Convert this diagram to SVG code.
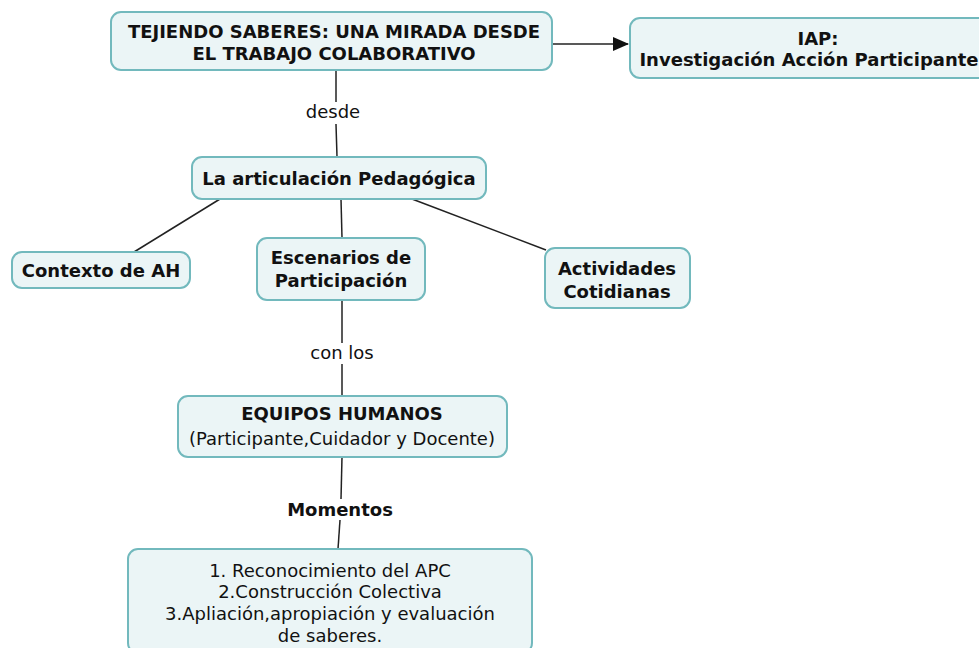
<svg xmlns="http://www.w3.org/2000/svg" width="979" height="648" viewBox="0 0 979 648">
<defs>
<style>
.box{fill:#ebf5f6;stroke:#72b9bd;stroke-width:2}
.t{font-family:"DejaVu Sans",Verdana,sans-serif;font-size:18px;fill:#111;text-anchor:middle}
.b{font-weight:bold}
.ln{stroke:#222;stroke-width:1.5;fill:none}
</style>
<marker id="arr" markerWidth="16" markerHeight="16" refX="15" refY="8" orient="auto" markerUnits="userSpaceOnUse">
<path d="M0,1 L16,8 L0,15 Z" fill="#111"/>
</marker>
</defs>
<rect width="979" height="648" fill="#fff"/>
<g id="connectors">
<line class="ln" x1="552" y1="44" x2="628" y2="44" marker-end="url(#arr)"/>
<line class="ln" x1="336" y1="70" x2="336" y2="102"/>
<line class="ln" x1="336" y1="124" x2="337" y2="157"/>
<line class="ln" x1="220" y1="199" x2="134" y2="252"/>
<line class="ln" x1="341" y1="199" x2="342" y2="238"/>
<line class="ln" x1="412" y1="199" x2="546" y2="250"/>
<line class="ln" x1="342" y1="300" x2="342" y2="343"/>
<line class="ln" x1="342" y1="364" x2="342" y2="396"/>
<line class="ln" x1="342" y1="457" x2="341" y2="499"/>
<line class="ln" x1="340" y1="520" x2="338" y2="549"/>
</g>
<g id="main">
<rect class="box" x="111" y="12" width="441" height="58" rx="10"/>
<text class="t b" x="334" y="38">TEJIENDO SABERES: UNA MIRADA DESDE</text>
<text class="t b" x="334" y="60">EL TRABAJO COLABORATIVO</text>
</g>
<g id="iap">
<rect class="box" x="630" y="18" width="360" height="60" rx="10"/>
<text class="t b" x="818" y="45">IAP:</text>
<text class="t b" x="809" y="66">Investigación Acción Participante</text>
</g>
<g id="lbl-desde"><text class="t" x="333" y="118">desde</text></g>
<g id="articulacion">
<rect class="box" x="192" y="157" width="294" height="42" rx="10"/>
<text class="t b" x="339" y="185">La articulación Pedagógica</text>
</g>
<g id="contexto">
<rect class="box" x="12" y="252" width="178" height="36" rx="10"/>
<text class="t b" x="101" y="277">Contexto de AH</text>
</g>
<g id="escenarios">
<rect class="box" x="257" y="238" width="168" height="62" rx="10"/>
<text class="t b" x="341" y="264">Escenarios de</text>
<text class="t b" x="341" y="287">Participación</text>
</g>
<g id="actividades">
<rect class="box" x="545" y="248" width="145" height="60" rx="10"/>
<text class="t b" x="617" y="275">Actividades</text>
<text class="t b" x="617" y="298">Cotidianas</text>
</g>
<g id="lbl-conlos"><text class="t" x="342" y="359">con los</text></g>
<g id="equipos">
<rect class="box" x="178" y="396" width="329" height="61" rx="10"/>
<text class="t b" x="342" y="420">EQUIPOS HUMANOS</text>
<text class="t" x="342" y="445">(Participante,Cuidador y Docente)</text>
</g>
<g id="lbl-momentos"><text class="t b" x="340" y="516">Momentos</text></g>
<g id="momentos">
<rect class="box" x="128" y="549" width="404" height="104" rx="10"/>
<text class="t" x="330" y="577">1. Reconocimiento del APC</text>
<text class="t" x="330" y="598">2.Construcción Colectiva</text>
<text class="t" x="330" y="620">3.Apliación,apropiación y evaluación</text>
<text class="t" x="330" y="642">de saberes.</text>
</g>
</svg>
